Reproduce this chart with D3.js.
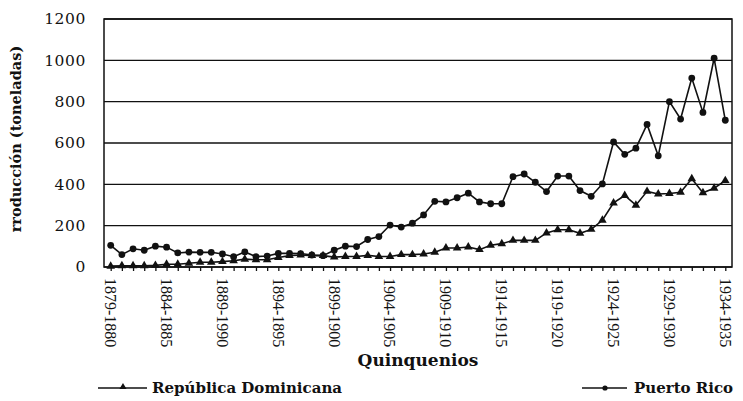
<!DOCTYPE html>
<html>
<head>
<meta charset="utf-8">
<script src="https://cdn.jsdelivr.net/npm/d3@7/dist/d3.min.js"></script>
<style>
  html, body { margin: 0; padding: 0; background: #fff; }
  #chart { width: 743px; height: 401px; }
  text { fill: #111; }
</style>
</head>
<body>
<div id="chart"></div>
<script>
// one point per year, 1879-1880 ... 1934-1935
const years = [
  1879, 1880, 1881, 1882, 1883, 1884, 1885, 1886, 1887, 1888,
  1889, 1890, 1891, 1892, 1893, 1894, 1895, 1896, 1897, 1898,
  1899, 1900, 1901, 1902, 1903, 1904, 1905, 1906, 1907, 1908,
  1909, 1910, 1911, 1912, 1913, 1914, 1915, 1916, 1917, 1918,
  1919, 1920, 1921, 1922, 1923, 1924, 1925, 1926, 1927, 1928,
  1929, 1930, 1931, 1932, 1933, 1934
];

const tickYears = [1879, 1884, 1889, 1894, 1899, 1904, 1909, 1914, 1919, 1924, 1929, 1934];
const tickLabels = [
  "1879-1880", "1884-1885", "1889-1990", "1894-1895", "1899-1900", "1904-1905",
  "1909-1910", "1914-1915", "1919-1920", "1924-1925", "1929-1930", "1934-1935"
];

const yTicks = [0, 200, 400, 600, 800, 1000, 1200];

const puertoRico = [
  105, 60, 88, 81, 101, 96, 68, 72, 71, 71,
  63, 50, 73, 50, 53, 66, 66, 65, 58, 55,
  81, 101, 99, 133, 147, 203, 193, 212, 252, 318,
  315, 335, 357, 315, 306, 306, 437, 450, 410, 365,
  440, 440, 370, 342, 402, 605, 545, 575, 690, 538,
  800, 716, 914, 748, 1010, 710
];

const repDominicana = [
  4, 6, 6, 6, 8, 13, 13, 18, 23, 23,
  26, 30, 38, 35, 35, 46, 55, 58, 55, 55,
  48, 51, 51, 56, 51, 51, 60, 60, 63, 71,
  92, 92, 97, 84, 105, 113, 129, 129, 129, 165,
  180, 180, 163, 182, 226, 310, 346, 299, 366, 353,
  356, 362, 427, 359, 381, 418
];

const width = 743, height = 401;
const margin = { top: 19, right: 11, bottom: 134, left: 104 };
const innerW = width - margin.left - margin.right;
const innerH = height - margin.top - margin.bottom;
const ink = "#111";

const svg = d3.select("#chart").append("svg")
  .attr("width", width).attr("height", height);
const g = svg.append("g").attr("transform", `translate(${margin.left},${margin.top})`);

const x = d3.scalePoint().domain(years).range([0, innerW]).padding(0.6);
const y = d3.scaleLinear().domain([0, 1200]).range([innerH, 0]);

// gridlines
g.append("g").selectAll("line")
  .data(yTicks)
  .join("line")
  .attr("x1", 0).attr("x2", innerW)
  .attr("y1", d => y(d)).attr("y2", d => y(d))
  .attr("stroke", ink).attr("stroke-width", 1.3);

// frame
g.append("rect")
  .attr("width", innerW).attr("height", innerH)
  .attr("fill", "none").attr("stroke", ink).attr("stroke-width", 1.5);

// y axis labels
const yAxis = g.append("g")
  .call(d3.axisLeft(y).tickValues(yTicks).tickFormat(d3.format("d")).tickSize(0).tickPadding(18));
yAxis.select(".domain").remove();
yAxis.selectAll("text")
  .attr("font-family", "DejaVu Serif").attr("font-size", 15.5)
  .attr("letter-spacing", 0.6).attr("fill", ink);

// x axis: small year ticks + rotated labels
const xAxis = g.append("g")
  .attr("transform", `translate(0,${innerH})`)
  .call(d3.axisBottom(x).tickSize(4).tickFormat(""));
xAxis.select(".domain").remove();
xAxis.selectAll("line").attr("stroke", ink).attr("stroke-width", 1.3);

g.append("g").selectAll("text")
  .data(tickYears)
  .join("text")
  .attr("transform", (d, i) => `translate(${x(d)},${innerH + 11}) rotate(90)`)
  .attr("dy", "0.35em")
  .attr("font-family", "Liberation Serif").attr("font-size", 16)
  .text((d, i) => tickLabels[i]);

// series
const line = d3.line().x((d, i) => x(years[i])).y(d => y(d));

g.append("path").datum(repDominicana)
  .attr("d", line).attr("fill", "none")
  .attr("stroke", ink).attr("stroke-width", 1.6);
g.append("path").datum(puertoRico)
  .attr("d", line).attr("fill", "none")
  .attr("stroke", ink).attr("stroke-width", 1.6);

const tri = d3.symbol().type(d3.symbolTriangle).size(32);
g.append("g").selectAll("path")
  .data(repDominicana)
  .join("path")
  .attr("d", tri)
  .attr("transform", (d, i) => `translate(${x(years[i])},${y(d)})`)
  .attr("fill", ink);

g.append("g").selectAll("circle")
  .data(puertoRico)
  .join("circle")
  .attr("cx", (d, i) => x(years[i]))
  .attr("cy", d => y(d))
  .attr("r", 3.4)
  .attr("fill", ink);

// axis titles
svg.append("text")
  .attr("transform", `translate(21,${margin.top + 120}) rotate(-90)`)
  .attr("text-anchor", "middle")
  .attr("font-family", "DejaVu Serif").attr("font-weight", "bold").attr("font-size", 14.5)
  .text("rroducción (toneladas)");

svg.append("text")
  .attr("x", 418).attr("y", 366)
  .attr("text-anchor", "middle")
  .attr("font-family", "DejaVu Serif").attr("font-weight", "bold").attr("font-size", 17)
  .text("Quinquenios");

// legend
const legend = svg.append("g").attr("font-family", "DejaVu Serif")
  .attr("font-weight", "bold").attr("font-size", 15);

legend.append("line").attr("x1", 98).attr("x2", 147).attr("y1", 388).attr("y2", 388)
  .attr("stroke", ink).attr("stroke-width", 1.3);
legend.append("path").attr("d", d3.symbol().type(d3.symbolTriangle).size(22))
  .attr("transform", "translate(123,387)").attr("fill", ink);
legend.append("text").attr("x", 152).attr("y", 393).text("República Dominicana");

legend.append("line").attr("x1", 582).attr("x2", 627).attr("y1", 388).attr("y2", 388)
  .attr("stroke", ink).attr("stroke-width", 1.3);
legend.append("circle").attr("cx", 605).attr("cy", 388).attr("r", 2.6).attr("fill", ink);
legend.append("text").attr("x", 634).attr("y", 393).text("Puerto Rico");
</script>
</body>
</html>
